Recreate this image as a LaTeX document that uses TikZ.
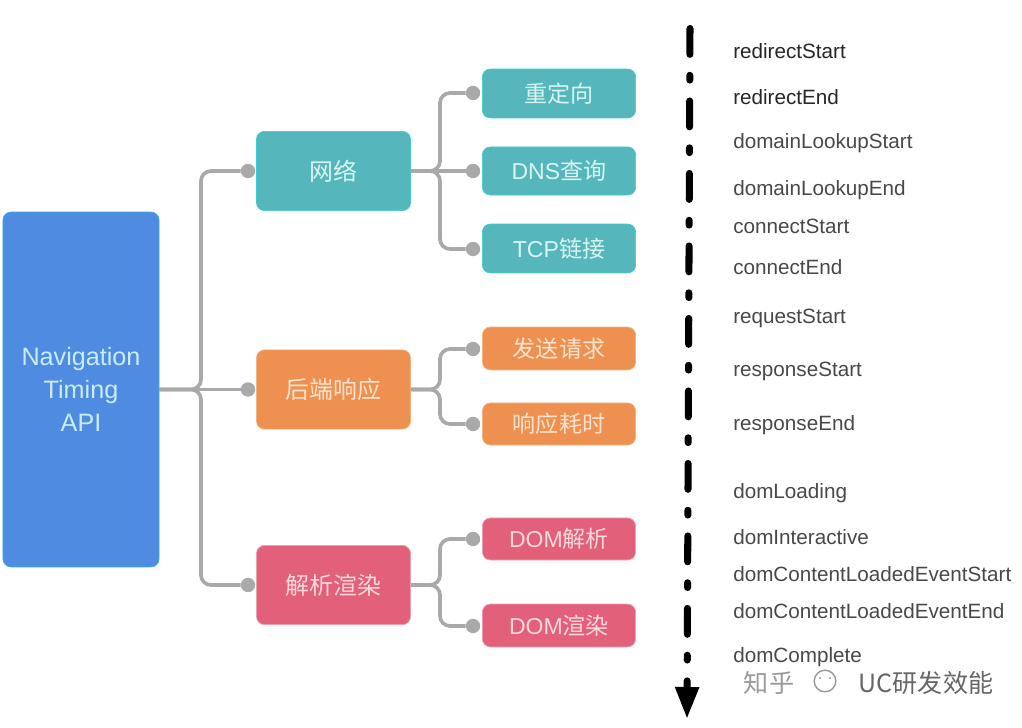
\documentclass[tikz,border=0pt]{standalone}
\usepackage{fontspec}
\setmainfont{Liberation Sans}
\newfontfamily\cjk{Noto Sans CJK SC}
\usetikzlibrary{arrows.meta}
\usetikzlibrary{calc}

\definecolor{rootblue}{HTML}{4F8BE0}
\definecolor{teal}{HTML}{55B6BB}
\definecolor{tealtext}{HTML}{D8F5F2}
\definecolor{orangebox}{HTML}{EE9150}
\definecolor{orangetext}{HTML}{FBE3D0}
\definecolor{pinkbox}{HTML}{E2607A}
\definecolor{pinktext}{HTML}{FBD9DC}
\definecolor{linkgray}{HTML}{A9A9A9}
\definecolor{labelgray}{HTML}{484848}
\definecolor{marktext}{HTML}{9A9A9A}

\tikzset{
    box/.style={rectangle, rounded corners=0.2cm, line width=0.5pt, inner sep=0pt, align=center},
    midbox/.style={box, minimum width=3.85cm, minimum height=1.98cm, font=\fontsize{17}{20}\selectfont},
    leafbox/.style={box, minimum width=3.83cm, font=\fontsize{16.4}{20}\selectfont},
    tealbox/.style={fill=teal, draw=teal!70!cyan, text=tealtext},
    orangefill/.style={fill=orangebox, draw=orangebox!70!white, text=orangetext},
    pinkfill/.style={fill=pinkbox, draw=pinkbox!60!white, text=pinktext},
    dot/.style={circle, fill=linkgray, minimum size=0.36cm, inner sep=0pt},
    link/.style={draw=linkgray, line width=2.6pt, rounded corners=0.25cm},
    stamp/.style={inner sep=0pt, anchor=base west, font=\fontsize{14.7}{17}\selectfont, text=labelgray},
    markfont/.style={inner sep=0pt, font=\cjk\fontsize{17.8}{20}\selectfont, text=marktext}
}

\begin{document}
\begin{tikzpicture}[x=0.025cm,y=-0.025cm]
    \useasboundingbox (0,0) rectangle (1022,728);

    \coordinate (trunk) at (201,389.5);
    \coordinate (netfork) at (440,171);
    \coordinate (backfork) at (440,389.5);
    \coordinate (parsefork) at (440,585);

    \node[dot] (dotnet) at (248,171) {};
    \node[dot] (dotback) at (248,389.5) {};
    \node[dot] (dotparse) at (248,585) {};
    \node[dot] (dotredirect) at (473,93) {};
    \node[dot] (dotdns) at (473,171) {};
    \node[dot] (dottcp) at (473,249) {};
    \node[dot] (dotsend) at (473,349) {};
    \node[dot] (dotwait) at (473,424) {};
    \node[dot] (dotdom) at (473,539) {};
    \node[dot] (dotpaint) at (473,626) {};

    \node[box, fill=rootblue, draw=rootblue!70!cyan, text=white!78!cyan, minimum width=3.9cm, minimum height=8.87cm, font=\fontsize{17.9}{23.5}\selectfont] (root) at (81,389.5) {Navigation\\Timing\\API};

    \node[midbox, tealbox] (net) at (333.5,171) {\cjk 网络};
    \node[midbox, orangefill] (back) at (333.5,389.5) {\cjk 后端响应};
    \node[midbox, pinkfill] (parse) at (333.5,585) {\cjk 解析渲染};

    \node[leafbox, tealbox, minimum height=1.22cm] (redirect) at (559,93.5) {\cjk 重定向};
    \node[leafbox, tealbox, minimum height=1.2cm] (dns) at (559,171) {DNS{\cjk 查询}};
    \node[leafbox, tealbox, minimum height=1.22cm] (tcp) at (559,248.5) {TCP{\cjk 链接}};
    \node[leafbox, orangefill, minimum height=1.07cm] (send) at (559,348.5) {\cjk 发送请求};
    \node[leafbox, orangefill, minimum height=1.05cm] (wait) at (559,424) {\cjk 响应耗时};
    \node[leafbox, pinkfill, minimum height=1.05cm] (dom) at (559,539) {DOM{\cjk 解析}};
    \node[leafbox, pinkfill, minimum height=1.07cm] (paint) at (559,625.5) {DOM{\cjk 渲染}};

    \draw[link] (root.east) -- (trunk) |- (dotnet);
    \draw[link] (root.east) -- (dotback);
    \draw[link] (root.east) -- (trunk) |- (dotparse);

    \draw[link] (net.east) -- (netfork) |- (dotredirect);
    \draw[link] (net.east) -- (dotdns);
    \draw[link] (net.east) -- (netfork) |- (dottcp);

    \draw[link] (back.east) -- (backfork) |- (dotsend);
    \draw[link] (back.east) -- (backfork) |- (dotwait);

    \draw[link] (parse.east) -- (parsefork) |- (dotdom);
    \draw[link] (parse.east) -- (parsefork) |- (dotpaint);

    % time axis
    \coordinate (axistop) at (690,28.5);
    \coordinate (axisend) at (687,719);
    \draw[line width=5pt, line cap=round, dash pattern=on 18.4pt off 14.9pt on 3.4pt off 14.85pt, -{Triangle[width=0.56cm,length=0.8cm]}] (axistop) -- (axisend);

    \node[stamp, text=black!85] (redirectstart) at (733,59) {redirectStart};
    \node[stamp, text=black!85] (redirectend) at (733,105) {redirectEnd};
    \node[stamp] (lookupstart) at (733,149) {domainLookupStart};
    \node[stamp] (lookupend) at (733,196) {domainLookupEnd};
    \node[stamp] (connectstart) at (733,234) {connectStart};
    \node[stamp] (connectend) at (733,275) {connectEnd};
    \node[stamp] (requeststart) at (733,324) {requestStart};
    \node[stamp] (responsestart) at (733,377) {responseStart};
    \node[stamp] (responseend) at (733,431) {responseEnd};
    \node[stamp] (domloading) at (733,499) {domLoading};
    \node[stamp] (dominteractive) at (733,544) {domInteractive};
    \node[stamp] (loadedstart) at (733,581) {domContentLoadedEventStart};
    \node[stamp] (loadedend) at (733,618) {domContentLoadedEventEnd};
    \node[stamp] (domcomplete) at (733,662) {domComplete};

    % stamp in the corner
    \fill[white] (740,667) rectangle (1000,700);
    \node[markfont] (markzhihu) at (769,683) {知乎};
    \draw[marktext, line width=1pt, fill=white] (825,681) circle (0.27cm);
    \fill[marktext] (820,678) circle (0.03cm) (830,678) circle (0.03cm);
    \node[markfont, text=black!60] (markname) at (926,683) {UC研发效能};
\end{tikzpicture}
\end{document}
